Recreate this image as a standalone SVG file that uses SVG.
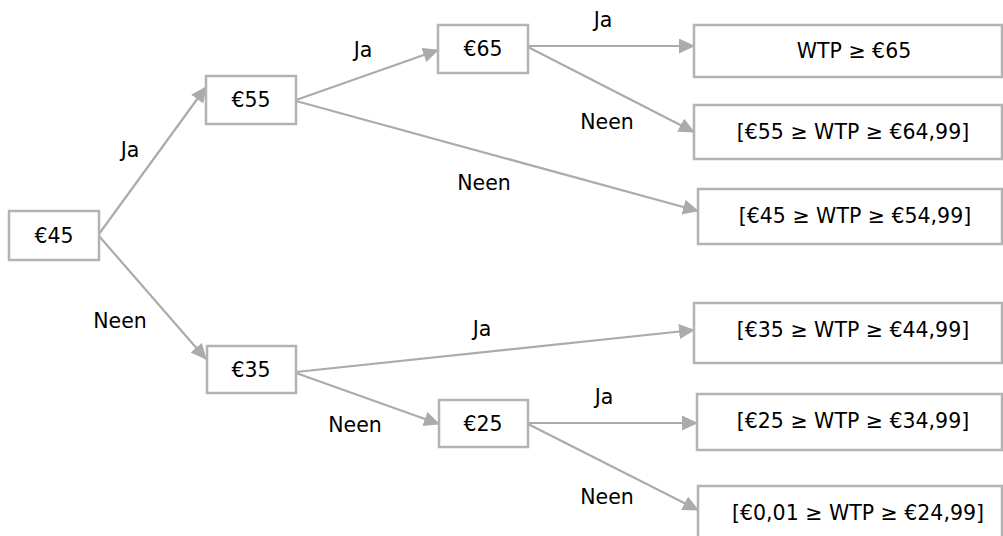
<svg xmlns="http://www.w3.org/2000/svg" width="1003" height="536" viewBox="0 0 1003 536">
<style>
.box{fill:#fff;stroke:#B3B3B3;stroke-width:2.5}
.t{font-family:"DejaVu Sans",Verdana,sans-serif;font-size:20.5px;fill:#000;text-anchor:middle}
.c{stroke:#ABABAB;stroke-width:2.2;fill:none}
</style>
<defs>
<marker id="ah" markerUnits="userSpaceOnUse" markerWidth="16" markerHeight="15" refX="15" refY="7.5" orient="auto">
<path d="M0,0 L16,7.5 L0,15 Z" fill="#ABABAB"/>
</marker>
</defs>
<g id="connectors">
<line class="c" x1="99" y1="234" x2="206" y2="87" marker-end="url(#ah)"/>
<line class="c" x1="99" y1="236" x2="206" y2="359" marker-end="url(#ah)"/>
<line class="c" x1="296" y1="100" x2="438" y2="50" marker-end="url(#ah)"/>
<line class="c" x1="296" y1="101" x2="698" y2="211" marker-end="url(#ah)"/>
<line class="c" x1="528" y1="46" x2="694" y2="46" marker-end="url(#ah)"/>
<line class="c" x1="528" y1="47" x2="694" y2="132" marker-end="url(#ah)"/>
<line class="c" x1="296" y1="372" x2="694" y2="330" marker-end="url(#ah)"/>
<line class="c" x1="296" y1="373" x2="439" y2="424" marker-end="url(#ah)"/>
<line class="c" x1="528" y1="423" x2="697" y2="423" marker-end="url(#ah)"/>
<line class="c" x1="528" y1="424" x2="698" y2="510" marker-end="url(#ah)"/>
</g>
<g id="labels">
<text class="t" x="130" y="157">Ja</text>
<text class="t" x="120" y="328">Neen</text>
<text class="t" x="363" y="57">Ja</text>
<text class="t" x="603" y="27">Ja</text>
<text class="t" x="607" y="129">Neen</text>
<text class="t" x="484" y="190">Neen</text>
<text class="t" x="482" y="336">Ja</text>
<text class="t" x="355" y="432">Neen</text>
<text class="t" x="604" y="404">Ja</text>
<text class="t" x="607" y="504">Neen</text>
</g>
<g id="n45"><rect class="box" x="9" y="211" width="90" height="49"/><text class="t" x="54" y="243">€45</text></g>
<g id="n55"><rect class="box" x="206" y="76" width="90" height="48"/><text class="t" x="251" y="107">€55</text></g>
<g id="n65"><rect class="box" x="438" y="25" width="90" height="48"/><text class="t" x="483" y="56">€65</text></g>
<g id="n35"><rect class="box" x="207" y="346" width="89" height="47"/><text class="t" x="251" y="377">€35</text></g>
<g id="n25"><rect class="box" x="439" y="400" width="89" height="47"/><text class="t" x="483" y="431">€25</text></g>
<g id="r65"><rect class="box" x="694" y="25" width="308" height="52"/><text class="t" x="854" y="58">WTP ≥ €65</text></g>
<g id="r55"><rect class="box" x="694" y="105" width="308" height="54"/><text class="t" x="853" y="139">[€55 ≥ WTP ≥ €64,99]</text></g>
<g id="r45"><rect class="box" x="698" y="189" width="304" height="55"/><text class="t" x="855" y="223">[€45 ≥ WTP ≥ €54,99]</text></g>
<g id="r35"><rect class="box" x="694" y="303" width="308" height="60"/><text class="t" x="853" y="337">[€35 ≥ WTP ≥ €44,99]</text></g>
<g id="r25"><rect class="box" x="697" y="394" width="305" height="56"/><text class="t" x="853" y="428">[€25 ≥ WTP ≥ €34,99]</text></g>
<g id="r01"><rect class="box" x="698" y="486" width="304" height="60"/><text class="t" x="858" y="520">[€0,01 ≥ WTP ≥ €24,99]</text></g>
</svg>
